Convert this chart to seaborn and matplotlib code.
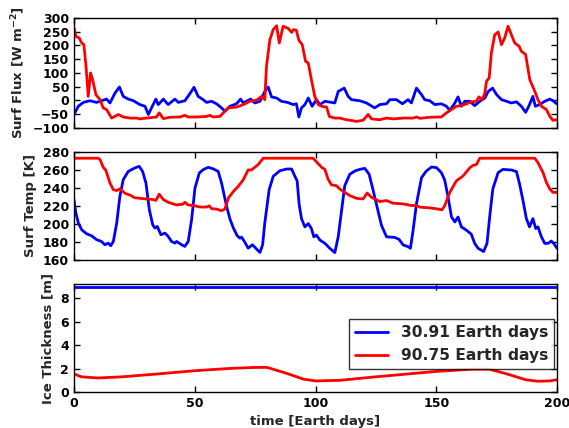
import numpy as np
import pandas as pd
import matplotlib
matplotlib.use("Agg")
import matplotlib.pyplot as plt
import seaborn as sns

# ==============================
# Data
# ==============================
# surface flux, 90.75 day orbit (red)
flux_red_day = [0, 0.8, 2.2, 3.2, 4.1, 5, 5.9, 6.9, 7.7, 9.1,
                10.8, 12.1, 13.5, 15.6, 16.9, 18.3, 20.4, 23.2, 25.9, 27.3,
                30, 34.2, 35.3, 37, 39.7, 43.9, 45.9, 47.3, 50.8, 54.9,
                56.3, 57.7, 60.4, 61.8, 63.9, 67.3, 70.1, 72.8, 75.6, 77.7,
                79, 79.7, 81.1, 82.5, 83.9, 85, 86.6, 88.7, 90.1, 91,
                92.1, 93.1, 94.5, 95.9, 97, 98.3, 99.7, 101.1, 102.5, 104.6,
                105.7, 108, 110.1, 112.8, 117, 119.7, 121.8, 123.2, 126.6, 129.4,
                132.1, 136.3, 140.4, 141.8, 143.2, 147.3, 152.1, 154.2, 156.3, 158.3,
                160.4, 162.5, 164.6, 166.6, 167.7, 169.1, 170.1, 170.8, 171.9, 172.8,
                174.2, 175.6, 177, 178.3, 179.7, 181.1, 182.5, 184.3, 185.2, 187,
                188.7, 190.8, 192.1, 193.5, 195.6, 197, 198.3, 200]
flux_red = [265, 233, 227, 209, 203, 124, 15, 100, 76, 21,
            3, -27, -33, -64, -58, -51, -60, -64, -64, -67,
            -64, -60, -45, -66, -61, -60, -54, -60, -60, -58,
            -54, -60, -58, -45, -27, -24, -15, -3, 1, 15,
            3, 124, 221, 258, 272, 209, 270, 262, 248, 258,
            255, 219, 203, 142, 136, 76, 15, -15, -21, -24,
            -58, -64, -64, -70, -76, -72, -51, -67, -70, -64,
            -67, -64, -64, -60, -65, -61, -60, -45, -33, -21,
            -19, -12, -5, -3, 13, 3, 27, 70, 82, 173,
            239, 249, 203, 227, 270, 239, 209, 197, 179, 167,
            76, 33, 3, -21, -33, -58, -72, -70]

# surface flux, 30.91 day orbit (blue)
flux_blue_day = [0, 1.8, 3.9, 6.6, 9.4, 11.4, 13.5, 14.9, 17, 18.8,
                 20.4, 22.5, 24.6, 27.3, 29.4, 30.8, 32.1, 33.9, 34.9, 37,
                 39, 41.8, 43.2, 45.9, 47.7, 49.7, 51.4, 53.5, 54.9, 57,
                 59, 61.1, 62.5, 64.6, 67.3, 69, 70.1, 73.1, 74.9, 77,
                 79, 80.4, 81.8, 83.9, 85.9, 88.4, 90.8, 92.1, 93.1, 94.2,
                 95.6, 97, 98.6, 100.4, 101.8, 103.9, 106.6, 108, 109.4, 111.9,
                 113.5, 114.9, 118.3, 121.1, 124.5, 126.6, 129.4, 130.8, 133.5, 136,
                 138.3, 139.7, 141.8, 143.9, 145.2, 147.3, 149.4, 152.1, 154.2, 155.6,
                 157.7, 159, 160.4, 161.8, 163.9, 165.9, 168, 170.1, 171.5, 173.3,
                 175, 177, 179.1, 181.1, 183.2, 185.2, 187, 188.4, 190, 191,
                 192.8, 194.9, 197, 198.3, 200]
flux_blue = [-51, -21, -7, -1, -7, -1, 5, -9, 27, 49,
             15, 5, -1, -15, -21, -51, -27, 5, -15, 5,
             -15, 5, -7, -1, 21, 48, 15, 3, -7, -3,
             -12, -27, -39, -21, -12, 5, -9, 5, -9, -3,
             33, 49, 13, 9, -3, -7, -15, -12, -60, -27,
             -15, 9, -21, 3, -15, -3, -7, -9, 33, 45,
             15, 3, -1, -9, -27, -15, -12, 3, 3, -12,
             3, -9, 45, 21, 3, -1, -15, -12, -21, -36,
             -9, 13, -21, -3, -3, -19, -3, 9, 33, 45,
             21, 3, -3, -9, -5, -21, -43, -19, 15, -21,
             -15, -3, 5, -1, -13]

# surface temperature, red
temp_red_day = [0, 10, 10.8, 12.1, 13.2, 14.9, 16.3, 17.7, 19, 21.1,
                23.2, 25.2, 28.7, 32.8, 33.9, 35.3, 37, 39, 42.5, 45.2,
                45.9, 47.3, 49.4, 52.1, 54.9, 56, 57, 59, 61.1, 62.5,
                63.9, 66, 68, 70.1, 72.1, 73.5, 76.3, 78.3, 99, 100.4,
                102.5, 103.9, 105.2, 106.6, 108.7, 110.1, 112.1, 114.2, 117, 119.7,
                121.4, 123.2, 126.6, 129.4, 132.1, 136.3, 139.7, 141.8, 143.2, 147.3,
                150.1, 152.4, 153.5, 155.6, 158.3, 161.1, 163.9, 165.2, 166.6, 168,
                190.8, 192.1, 194.2, 195.6, 197, 198.3, 200]
temp_red = [273, 273, 271.5, 263, 259.6, 245.5, 238, 237, 239, 234,
            232, 229, 228, 227, 226, 233, 227, 224, 221, 222,
            224, 221, 220.5, 218.7, 218.7, 220, 216.8, 216.5, 214.6, 216.5,
            228.7, 236, 241.7, 249, 260, 260, 266, 273, 273, 269,
            263, 260.6, 249.7, 243.4, 242.4, 238.7, 235, 231.4, 228.4, 227.7,
            234.3, 229.5, 224.8, 225.9, 223, 222.2, 220.4, 220.4, 218.6, 217.8,
            216.7, 215.6, 220.4, 235, 247.8, 253.3, 262.5, 265, 266, 273,
            273, 268, 257, 246, 238.7, 235, 235]

# surface temperature, blue
temp_blue_day = [0, 0.8, 1.8, 3.2, 5.2, 7.3, 9.4, 11.4, 12.8, 14.2,
                 15.2, 16.3, 17.7, 19, 20.4, 22.5, 25.2, 27, 28.4, 29.8,
                 31.2, 32.6, 33.5, 34.5, 36, 37.7, 39, 40.4, 41.8, 42.5,
                 44.6, 45.9, 47.3, 48.7, 50.1, 51.9, 53.5, 55.6, 57.7, 59.7,
                 61.1, 63.2, 64.6, 66, 67.6, 68.7, 69.4, 70.8, 72.1, 73.9,
                 75.6, 77, 78.1, 79, 80.8, 82.5, 85.2, 88, 90.1, 91.4,
                 92.4, 93.2, 94.2, 95.6, 97, 98.3, 99.3, 100.4, 101.8, 103.9,
                 105.9, 108, 109.4, 110.8, 112.1, 114.2, 116.3, 118.3, 120.4, 122.2,
                 123.9, 125.5, 127.3, 129.4, 132.8, 134.6, 136.3, 138.3, 139.3, 140.4,
                 141.8, 143.9, 145.9, 148, 150.1, 152.1, 153.5, 154.9, 156.3, 157.7,
                 159, 160.4, 162.5, 164.5, 165.9, 167.3, 169.6, 171, 172.1, 173.4,
                 175.6, 177.6, 181.1, 183.2, 184.5, 185.9, 187.3, 188.6, 190, 191.2,
                 192.1, 193.5, 194.9, 196.3, 197.6, 198.6, 200]
temp_blue = [227, 212, 201, 193.4, 189, 186.7, 182.3, 180.4, 176.7, 178.6,
             175.6, 180.4, 200.9, 230.6, 249.2, 258.4, 262.2, 264, 258.4, 245.4,
             215.7, 199, 195.3, 197.1, 187.9, 189.7, 186, 180.4, 178.6, 180.4,
             176.7, 174.9, 180.4, 204.6, 239.9, 256.6, 260.3, 262.9, 261.1, 258.4,
             245.4, 219.4, 205.3, 195.3, 186.7, 184.1, 185.2, 179.3, 173, 176.7,
             171.9, 168.2, 176.7, 200.9, 238, 252.9, 259, 261, 261, 253.3,
             247.8, 222.2, 205.8, 196.6, 200.3, 194.8, 185.6, 187.5, 182, 178.3,
             172.8, 168, 185.6, 214.9, 242.4, 255.2, 258.8, 260.6, 261.7, 255.2,
             236.9, 218.6, 198.4, 185.6, 184.9, 182.7, 176.5, 174.6, 172.8, 192.9,
             222.2, 251.5, 258.8, 263.2, 262.5, 257, 248.6, 229.5, 207.6, 202.1,
             207.6, 196.6, 192.9, 188.5, 178.3, 172.8, 169.2, 178.3, 207.6, 238.7,
             257, 260.6, 259.9, 258.1, 244.2, 225.9, 205.8, 196.6, 205.8, 194.8,
             196.6, 185.6, 178.3, 178.3, 180.9, 178.3, 172.8]

# ice thickness
ice_red_day = [0, 3, 10, 20, 35, 50, 65, 75, 80, 88, 95, 100, 110, 125,
               150, 165, 172, 180, 187, 192, 197, 200]
ice_red = [1.55, 1.3, 1.2, 1.3, 1.55, 1.82, 2.02, 2.1, 2.1, 1.6, 1.1, 0.95, 1.0, 1.3,
           1.76, 1.95, 1.95, 1.5, 1.05, 0.92, 0.95, 1.05]
ice_blue_day = [0, 200]
ice_blue = [9.0, 9.0]

labels = ["30.91 Earth days", "90.75 Earth days"]
colors = ["blue", "red"]

# ==============================
# Style
# ==============================
sns.set_style("ticks", {"xtick.direction": "in", "ytick.direction": "in"})
plt.rcParams["font.family"] = ["DejaVu Sans"]
plt.rcParams["font.weight"] = "bold"
plt.rcParams["axes.labelweight"] = "bold"
plt.rcParams["font.size"] = 9.5

fig = plt.figure(figsize=(5.69, 4.28), dpi=100)
left, width = 0.130, 0.849
ax1 = fig.add_axes([left, 0.701, width, 0.257])
ax2 = fig.add_axes([left, 0.393, width, 0.252])
ax3 = fig.add_axes([left, 0.084, width, 0.252])


def draw(ax, day, val, color, label=None):
    d = pd.DataFrame({"day": day, "val": val})
    sns.lineplot(data=d, x="day", y="val", ax=ax, color=color, lw=2,
                 estimator=None, label=label, legend=False)


draw(ax1, flux_blue_day, flux_blue, colors[0])
draw(ax1, flux_red_day, flux_red, colors[1])
draw(ax2, temp_blue_day, temp_blue, colors[0])
draw(ax2, temp_red_day, temp_red, colors[1])
draw(ax3, ice_blue_day, ice_blue, colors[0], labels[0])
draw(ax3, ice_red_day, ice_red, colors[1], labels[1])

ax1.set_ylim(-100, 300)
ax1.set_yticks(np.arange(-100, 301, 50))
ax1.set_ylabel(r"Surf Flux [W m$^{-2}$]", fontsize=9.5)
ax2.set_ylim(160, 280)
ax2.set_yticks(np.arange(160, 281, 20))
ax2.set_ylabel("Surf Temp [K]", fontsize=9.5)
ax3.set_ylim(0, 9.2)
ax3.set_yticks([0, 2, 4, 6, 8])
ax3.set_ylabel("Ice Thickness [m]", fontsize=9.5)
ax3.set_xlabel("time [Earth days]", fontsize=9.5)

for ax in (ax1, ax2, ax3):
    ax.set_xlim(0, 200)
    ax.set_xticks([0, 50, 100, 150, 200])
    ax.tick_params(direction="in", top=True, right=True, length=4,
                   width=1, colors="black", labelsize=9)
    for s in ax.spines.values():
        s.set_color("black")
        s.set_linewidth(1)
for ax in (ax1, ax2):
    ax.set_xlabel("")
    ax.tick_params(labelbottom=False)

leg = ax3.legend(loc="center right", bbox_to_anchor=(0.994, 0.444), frameon=True,
                 fancybox=False, prop={"weight": "bold", "size": 11.2},
                 handlelength=2.1, handletextpad=0.8, borderpad=0.4,
                 borderaxespad=0)
leg.get_frame().set_edgecolor("black")
leg.get_frame().set_linewidth(1)

plt.savefig("out.png", dpi=100)
plt.close()
